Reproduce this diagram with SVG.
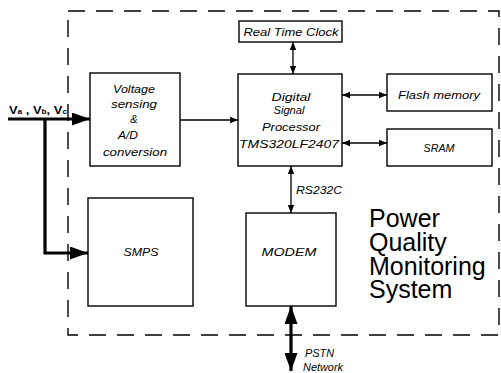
<svg xmlns="http://www.w3.org/2000/svg" width="501" height="373" viewBox="0 0 501 373">
<defs>
<style>
.box{fill:#fff;stroke:#000;stroke-width:1.4}
.frame{fill:none;stroke:#000;stroke-width:1.4;stroke-dasharray:17 11}
.t{font-family:"Liberation Sans",Arial,sans-serif;font-style:italic;font-size:11px;text-anchor:middle;fill:#000}
.s{text-anchor:start}
.big{font-family:"Liberation Sans",Arial,sans-serif;font-size:25px;fill:#000}
.thin{stroke:#000;stroke-width:1.3;fill:none}
.thick{stroke:#000;stroke-width:3.2;fill:none}
</style>
<marker id="a" viewBox="0 0 10 10" refX="10" refY="5" markerWidth="8" markerHeight="8" markerUnits="userSpaceOnUse" orient="auto-start-reverse"><path d="M0,1 L10,5 L0,9 z" fill="#000"/></marker>
<marker id="A" viewBox="0 0 10 10" refX="10" refY="5" markerWidth="18" markerHeight="13" markerUnits="userSpaceOnUse" orient="auto-start-reverse" preserveAspectRatio="none"><path d="M0,0 L10,5 L0,10 z" fill="#000"/></marker>
</defs>
<rect class="frame" x="68" y="11" width="431" height="324"/>
<g id="connectors">
<line class="thick" x1="8" y1="119" x2="90" y2="119" marker-end="url(#A)"/>
<polyline class="thick" points="45,119 45,253 88,253" marker-end="url(#A)"/>
<line class="thin" x1="180" y1="120" x2="238" y2="120" marker-end="url(#a)"/>
<line class="thin" x1="293" y1="42" x2="293" y2="74" marker-start="url(#a)" marker-end="url(#a)"/>
<line class="thin" x1="342" y1="95" x2="387" y2="95" marker-start="url(#a)" marker-end="url(#a)"/>
<line class="thin" x1="342" y1="143" x2="387" y2="143" marker-start="url(#a)" marker-end="url(#a)"/>
<line class="thin" x1="291" y1="166" x2="291" y2="213" marker-start="url(#a)" marker-end="url(#a)"/>
<line class="thick" x1="291" y1="306" x2="291" y2="371" marker-start="url(#A)" marker-end="url(#A)"/>
<text x="9" y="114" font-family="Liberation Sans,Arial,sans-serif" font-weight="bold" font-size="11" textLength="58" lengthAdjust="spacingAndGlyphs">V<tspan font-size="7">a</tspan> , V<tspan font-size="7">b</tspan>, V<tspan font-size="7">c</tspan></text>
<text class="t s" x="296" y="194" textLength="46" lengthAdjust="spacingAndGlyphs">RS232C</text>
<text class="t s" x="305" y="357" textLength="29" lengthAdjust="spacingAndGlyphs">PSTN</text>
<text class="t s" x="303" y="371" textLength="40" lengthAdjust="spacingAndGlyphs">Network</text>
</g>
<g id="rtc"><rect class="box" x="239" y="21" width="103" height="21"/><text class="t" x="291" y="36" textLength="95" lengthAdjust="spacingAndGlyphs">Real Time Clock</text></g>
<g id="voltage"><rect class="box" x="90" y="73" width="90" height="93"/>
<text class="t" x="134" y="93" textLength="42" lengthAdjust="spacingAndGlyphs">Voltage</text><text class="t" x="134" y="108" textLength="46" lengthAdjust="spacingAndGlyphs">sensing</text><text class="t" x="134" y="123">&amp;</text><text class="t" x="128" y="139" textLength="20" lengthAdjust="spacingAndGlyphs">A/D</text><text class="t" x="135" y="156" textLength="64" lengthAdjust="spacingAndGlyphs">conversion</text></g>
<g id="dsp"><rect class="box" x="238" y="74" width="104" height="92"/>
<text class="t" x="291" y="101" textLength="39" lengthAdjust="spacingAndGlyphs">Digital</text><text class="t" x="289" y="114" textLength="31" lengthAdjust="spacingAndGlyphs">Signal</text><text class="t" x="291" y="131" textLength="58" lengthAdjust="spacingAndGlyphs">Processor</text><text class="t" x="289" y="148" textLength="100" lengthAdjust="spacingAndGlyphs">TMS320LF2407</text></g>
<g id="flash"><rect class="box" x="387" y="74" width="105" height="37"/><text class="t" x="439" y="99" textLength="82" lengthAdjust="spacingAndGlyphs">Flash memory</text></g>
<g id="sram"><rect class="box" x="387" y="129" width="105" height="37"/><text class="t" x="439" y="152" textLength="31" lengthAdjust="spacingAndGlyphs">SRAM</text></g>
<g id="smps"><rect class="box" x="88" y="198" width="105" height="108"/><text class="t" x="141" y="256" textLength="35" lengthAdjust="spacingAndGlyphs">SMPS</text></g>
<g id="modem"><rect class="box" x="246" y="213" width="90" height="93"/><text class="t" x="289" y="256" textLength="55" lengthAdjust="spacingAndGlyphs">MODEM</text></g>
<g id="title"><text class="big" x="369" y="227">Power</text><text class="big" x="369" y="251">Quality</text><text class="big" x="369" y="275">Monitoring</text><text class="big" x="369" y="298">System</text></g>
</svg>
